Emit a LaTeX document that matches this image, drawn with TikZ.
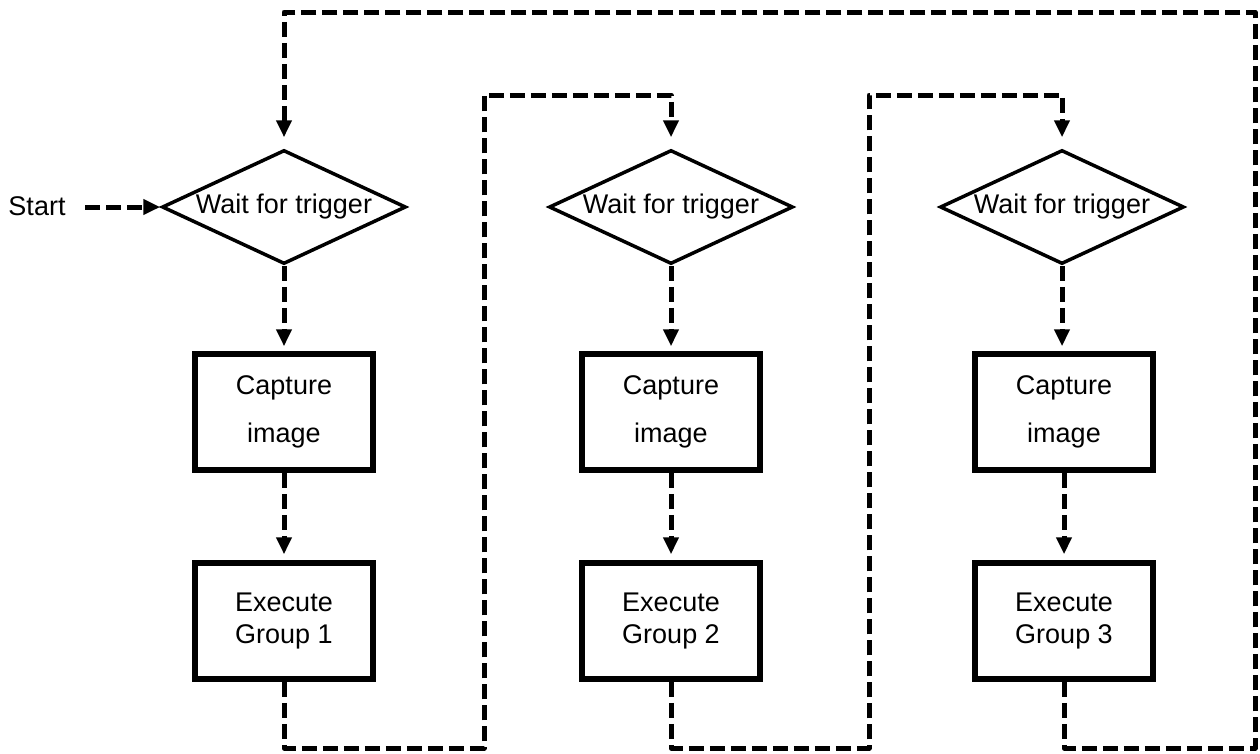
\documentclass[tikz,border=0pt]{standalone}
\usepackage{fontspec}
\setmainfont{Liberation Sans}
\usetikzlibrary{arrows.meta,shapes.geometric}
\begin{document}
\begin{tikzpicture}[x=1pt,y=-1pt,
  txt/.style={font=\fontsize{27}{32}\selectfont},
  dec/.style={draw, diamond, aspect=2.2, line width=3.5pt, minimum width=244pt, minimum height=114pt, inner sep=0pt, txt},
  box/.style={draw, rectangle, line width=5.5pt, minimum width=178pt, minimum height=116pt, align=center, inner sep=0pt, txt},
  conn/.style={line width=5pt, line join=round, dash pattern=on 15pt off 6pt},
  arr/.style={conn, -{Triangle[width=15pt,length=17pt]}}]
\useasboundingbox (0,0) rectangle (1260,753);
\node[txt] (start) at (37,206) {Start};
\coordinate (s0) at (85,207);
\node[dec] (d1) at (284,207) {Wait for trigger};
\node[dec] (d2) at (671,207) {Wait for trigger};
\node[dec] (d3) at (1062,207) {Wait for trigger};
\node[box] (c1) at (284,412) {Capture\\[16pt]image};
\node[box] (c2) at (671,412) {Capture\\[16pt]image};
\node[box] (c3) at (1064,412) {Capture\\[16pt]image};
\node[box] (e1) at (284,621) {Execute\\Group 1};
\node[box] (e2) at (671,621) {Execute\\Group 2};
\node[box] (e3) at (1064,621) {Execute\\Group 3};
\coordinate (k1a) at (484,748);
\coordinate (k1b) at (484,95);
\coordinate (k2a) at (869,748);
\coordinate (k2b) at (869,95);
\coordinate (k3a) at (1255,748);
\coordinate (k3b) at (1255,12);
\draw[arr] (s0) -- (d1.west);
\draw[arr, shorten >=5pt] (d1.south) -- (c1.north);
\draw[arr, shorten >=5pt] (d2.south) -- (c2.north);
\draw[arr, shorten >=5pt] (d3.south) -- (d3.south |- c3.north);
\draw[arr, shorten >=6pt] (c1.south) -- (e1.north);
\draw[arr, shorten >=6pt] (c2.south) -- (e2.north);
\draw[arr, shorten >=6pt] (c3.south) -- (e3.north);
\draw[arr, shorten >=11pt] (e1.south) |- (k1a) -- (k1b) -| (d2.north);
\draw[arr, shorten >=11pt] (e2.south) |- (k2a) -- (k2b) -| (d3.north);
\draw[arr, shorten >=11pt] (e3.south) |- (k3a) -- (k3b) -| (d1.north);
\end{tikzpicture}
\end{document}
